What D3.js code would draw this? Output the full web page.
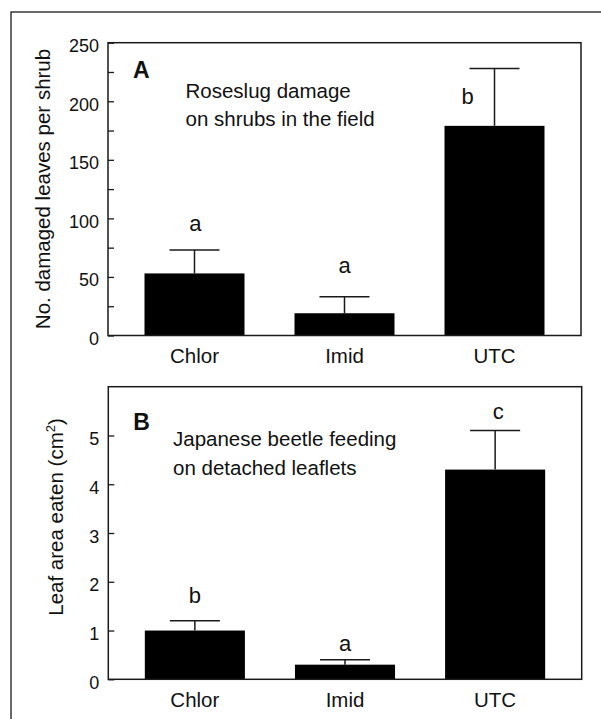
<!DOCTYPE html>
<html>
<head>
<meta charset="utf-8">
<script src="https://cdn.jsdelivr.net/npm/d3@7/dist/d3.min.js"></script>
<style>
  html, body { margin: 0; padding: 0; background: #fff; }
  svg { display: block; }
  text { font-family: "Liberation Sans", Arial, Helvetica, sans-serif; fill: #111; }
</style>
</head>
<body>
<svg id="chart" width="601" height="719"></svg>
<script>
// ---- data ----
const categories = ["Chlor", "Imid", "UTC"];

// Panel A: roseslug damage (no. damaged leaves per shrub)
const valuesA = [53, 19, 179];
const errorsA = [20, 14, 49];          // upper error (SE)
const lettersA = ["a", "a", "b"];
const letterYA = [89, 53.5, 198];      // letter baseline, data units
const letterDXA = [1, 0, -27];          // small horizontal offset of letters
const ticksA = [0, 50, 100, 150, 200, 250];
const minorTicksA = [25, 75, 125, 175, 225];

// Panel B: Japanese beetle feeding (leaf area eaten, cm²)
const valuesB = [1.0, 0.3, 4.3];
const errorsB = [0.2, 0.1, 0.8];
const lettersB = ["b", "a", "c"];
const letterYB = [1.56, 0.58, 5.33];
const letterDXB = [0, 0, 3];
const ticksB = [0, 1, 2, 3, 4, 5];

// ---- drawing ----
const svg = d3.select("#chart");
const ink = "#1a1a1a";

// outer frame (runs off right and bottom edge)
svg.append("rect")
  .attr("x", 11).attr("y", 12)
  .attr("width", 620).attr("height", 740)
  .attr("fill", "none").attr("stroke", ink).attr("stroke-width", 1.3);

function panel(opt) {
  const { left, right, top, bottom, domainMax, values, errors, letters, letterY, letterDX,
          ticks, minorTicks, label, title, titleX, titleY, noteLines, noteX, noteY, noteGap,
          panelLetterY } = opt;

  const x = d3.scaleBand().domain(categories).range([left, right])
    .paddingInner(1 / 3).paddingOuter(0.2433);
  const y = d3.scaleLinear().domain([0, domainMax]).range([bottom, top]);

  const g = svg.append("g");

  // bars
  g.selectAll("rect.bar").data(categories).enter().append("rect")
    .attr("class", "bar")
    .attr("x", d => x(d))
    .attr("width", x.bandwidth())
    .attr("y", (d, i) => y(values[i]))
    .attr("height", (d, i) => y(0) - y(values[i]))
    .attr("fill", "#000");

  // error bars
  const capHalf = x.bandwidth() / 4;
  categories.forEach((c, i) => {
    const cx = x(c) + x.bandwidth() / 2;
    g.append("line")
      .attr("x1", cx).attr("x2", cx)
      .attr("y1", y(values[i])).attr("y2", y(values[i] + errors[i]))
      .attr("stroke", ink).attr("stroke-width", 1.5);
    g.append("line")
      .attr("x1", cx - capHalf).attr("x2", cx + capHalf)
      .attr("y1", y(values[i] + errors[i])).attr("y2", y(values[i] + errors[i]))
      .attr("stroke", ink).attr("stroke-width", 1.5);
  });

  // significance letters
  g.selectAll("text.sig").data(categories).enter().append("text")
    .attr("class", "sig")
    .attr("x", (d, i) => x(d) + x.bandwidth() / 2 + letterDX[i])
    .attr("y", (d, i) => y(letterY[i]))
    .attr("text-anchor", "middle")
    .attr("font-size", 22)
    .text((d, i) => letters[i]);

  // y axis (inward ticks)
  const ax = g.append("g").attr("transform", `translate(${left},0)`)
    .call(d3.axisLeft(y).tickValues(ticks).tickSize(-6).tickPadding(9).tickFormat(d3.format("d")));
  ax.select(".domain").remove();
  ax.selectAll(".tick line").attr("stroke", ink).attr("stroke-width", 1.3);
  ax.selectAll(".tick text")
    .attr("font-size", 18)
    .attr("font-family", '"Liberation Sans", Arial, sans-serif')
    .attr("fill", "#111")
    .attr("dy", "0.5em");

  if (minorTicks) {
    const mx = g.append("g").attr("transform", `translate(${left},0)`)
      .call(d3.axisLeft(y).tickValues(minorTicks).tickSize(-6).tickFormat(""));
    mx.select(".domain").remove();
    mx.selectAll(".tick line").attr("stroke", ink).attr("stroke-width", 1.3);
  }

  // x category labels
  g.selectAll("text.cat").data(categories).enter().append("text")
    .attr("class", "cat")
    .attr("x", d => x(d) + x.bandwidth() / 2)
    .attr("y", bottom + 27.5)
    .attr("text-anchor", "middle")
    .attr("font-size", 20.5)
    .text(d => d);

  // plot frame
  g.append("rect")
    .attr("x", left).attr("y", top)
    .attr("width", right - left).attr("height", bottom - top)
    .attr("fill", "none").attr("stroke", ink).attr("stroke-width", 1.5);

  // panel letter
  g.append("text")
    .attr("x", left + 25).attr("y", panelLetterY)
    .attr("font-size", 23).attr("font-weight", "bold")
    .text(label);

  // note
  noteLines.forEach((t, i) => {
    g.append("text")
      .attr("x", noteX).attr("y", noteY + i * noteGap)
      .attr("font-size", 20.5)
      .text(t);
  });

  // y title
  const tt = g.append("text")
    .attr("transform", `translate(${titleX},${titleY}) rotate(-90)`)
    .attr("text-anchor", "middle")
    .attr("font-size", 20.5);
  title(tt);
}

panel({
  left: 108, right: 581, top: 42.7, bottom: 335.5, domainMax: 250,
  values: valuesA, errors: errorsA, letters: lettersA, letterY: letterYA, letterDX: letterDXA,
  ticks: ticksA, minorTicks: minorTicksA, label: "A", panelLetterY: 78,
  title: t => t.text("No. damaged leaves per shrub"), titleX: 50, titleY: 189,
  noteLines: ["Roseslug damage", "on shrubs in the field"], noteX: 185.5, noteY: 98, noteGap: 28
});

panel({
  left: 108.3, right: 581.7, top: 386.7, bottom: 679.3, domainMax: 6,
  values: valuesB, errors: errorsB, letters: lettersB, letterY: letterYB, letterDX: letterDXB,
  ticks: ticksB, minorTicks: null, label: "B", panelLetterY: 429.5,
  title: t => {
    t.append("tspan").text("Leaf area eaten (cm");
    t.append("tspan").attr("font-size", 13).attr("dy", -8).text("2");
    t.append("tspan").attr("dy", 8).text(")");
  },
  titleX: 63, titleY: 517,
  noteLines: ["Japanese beetle feeding", "on detached leaflets"], noteX: 173, noteY: 446, noteGap: 29
});
</script>
</body>
</html>
